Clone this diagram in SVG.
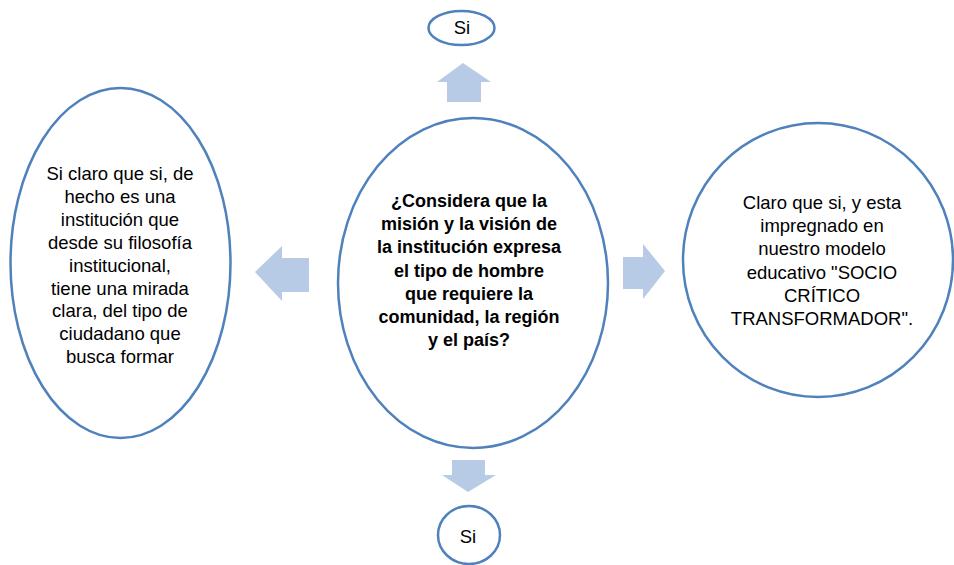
<svg xmlns="http://www.w3.org/2000/svg" width="954" height="565" viewBox="0 0 954 565">
<style>
.node{fill:#fff;stroke:#4F81BD;stroke-width:2.5}
.arr{fill:#B7CBE6;stroke:none}
text{font-family:"Liberation Sans",Arial,sans-serif;font-size:18.5px;fill:#000;text-anchor:middle}
.b{font-weight:bold;font-size:18px}
</style>
<rect width="954" height="565" fill="#fff"/>
<g id="connectors">
<polygon class="arr" points="447,102 447,82 437,82 463,63 491,82 481,82 481,102"/>
<polygon class="arr" points="452,460 485,460 485,475 496,475 468,492 442,475 452,475"/>
<polygon class="arr" points="309,258 282,258 282,246 255,272 282,301 282,292 309,292"/>
<polygon class="arr" points="623,257 643,257 643,244 665,271 643,299 643,289 623,289"/>
</g>
<g id="center">
<ellipse class="node" cx="473" cy="283" rx="135" ry="165"/>
<text class="b"><tspan x="469" y="207">¿Considera que la</tspan><tspan x="469" y="230.2">misión y la visión de</tspan><tspan x="469" y="253.4">la institución expresa</tspan><tspan x="469" y="276.6">el tipo de hombre</tspan><tspan x="469" y="299.8">que requiere la</tspan><tspan x="469" y="323">comunidad, la región</tspan><tspan x="469" y="346.2">y el país?</tspan></text>
</g>
<g id="top">
<ellipse class="node" cx="461.5" cy="28" rx="33" ry="17"/>
<text x="462" y="34">Si</text>
</g>
<g id="bottom">
<ellipse class="node" cx="469" cy="535" rx="31" ry="29"/>
<text x="468" y="543">Si</text>
</g>
<g id="left">
<ellipse class="node" cx="120.5" cy="263" rx="110" ry="175"/>
<text><tspan x="120" y="180">Si claro que si, de</tspan><tspan x="120" y="202.9">hecho es una</tspan><tspan x="120" y="225.8">institución que</tspan><tspan x="120" y="248.7">desde su filosofía</tspan><tspan x="120" y="271.6">institucional,</tspan><tspan x="120" y="294.5">tiene una mirada</tspan><tspan x="120" y="317.4">clara, del tipo de</tspan><tspan x="120" y="340.3">ciudadano que</tspan><tspan x="120" y="363.2">busca formar</tspan></text>
</g>
<g id="right">
<ellipse class="node" cx="818" cy="260" rx="135" ry="137"/>
<text><tspan x="822" y="209">Claro que si, y esta</tspan><tspan x="822" y="232.2">impregnado en</tspan><tspan x="822" y="255.4">nuestro modelo</tspan><tspan x="822" y="278.6">educativo "SOCIO</tspan><tspan x="822" y="301.8">CRÍTICO</tspan><tspan x="822" y="325">TRANSFORMADOR".</tspan></text>
</g>
</svg>
